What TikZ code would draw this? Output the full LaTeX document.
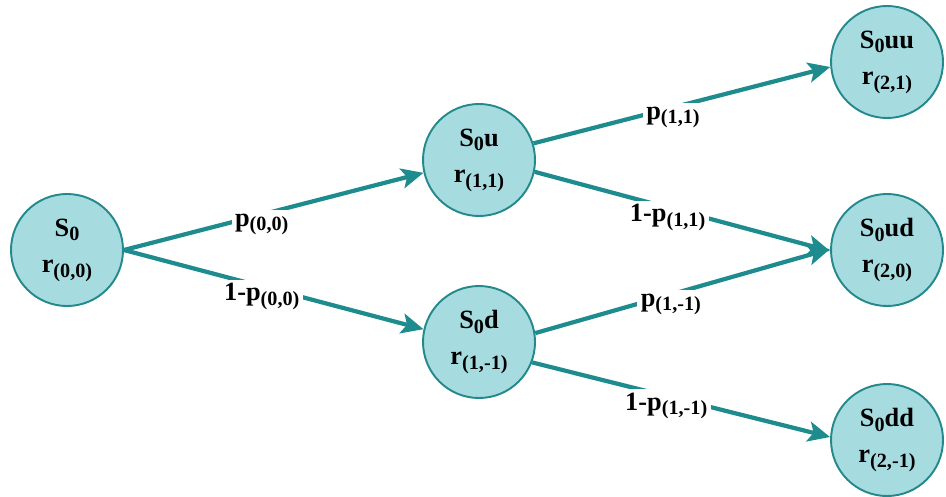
\documentclass[tikz,border=0pt]{standalone}
\usepackage{fontspec}
\setmainfont{Liberation Serif}
\usetikzlibrary{arrows.meta}

\definecolor{branchteal}{HTML}{1E8C8F}
\definecolor{statefill}{HTML}{A6DCE0}
\definecolor{statedraw}{HTML}{23898C}

% lowered, smaller index as in S0 and r(1,1)
\newcommand{\lowidx}[1]{\raisebox{-0.4ex}{\fontsize{11.5}{11.5}\selectfont #1}}

\begin{document}
\begin{tikzpicture}[
  state/.style={circle, draw=statedraw, line width=1.1pt, fill=statefill,
                minimum size=2.24cm, inner sep=0pt, align=center,
                text=black, font=\fontsize{15}{20.5}\selectfont\bfseries},
  branch/.style={draw=branchteal, line width=2.4pt,
                 -{Stealth[length=0.44cm, width=0.4cm, inset=0.1cm]}},
  prob/.style={fill=white, inner sep=2pt, yshift=-0.2cm, text=black,
               font=\fontsize{15}{17}\selectfont\bfseries},
]
  \useasboundingbox (0,0) rectangle (18.92,9.92);

  % states of the two-step tree
  \node[state] (s0)   at (1.34, 4.92)  {S\lowidx{0}\\r\lowidx{(0,0)}};
  \node[state] (s0u)  at (9.58, 6.72)  {S\lowidx{0}u\\r\lowidx{(1,1)}};
  \node[state] (s0d)  at (9.58, 3.08)  {S\lowidx{0}d\\r\lowidx{(1,-1)}};
  \node[state] (s0uu) at (17.74, 8.68) {S\lowidx{0}uu\\r\lowidx{(2,1)}};
  \node[state] (s0ud) at (17.74, 4.92) {S\lowidx{0}ud\\r\lowidx{(2,0)}};
  \node[state] (s0dd) at (17.74, 1.12) {S\lowidx{0}dd\\r\lowidx{(2,-1)}};

  % first step
  \draw[branch] (s0.east) -- node[prob, pos=0.46] {p\lowidx{(0,0)}} (s0u.193);
  \draw[branch] (s0.east) -- node[prob, pos=0.46] {1-p\lowidx{(0,0)}} (s0d.167);

  % second step
  \draw[branch] (s0u.17) -- node[prob, pos=0.47] {p\lowidx{(1,1)}} (s0uu.185);
  \draw[branch] (s0u.-12) -- node[prob, pos=0.45] {1-p\lowidx{(1,1)}} (s0ud.181);
  \draw[branch] (s0d.9) -- node[prob, pos=0.46] {p\lowidx{(1,-1)}} (s0ud.179);
  \draw[branch] (s0d.-21) -- node[prob, pos=0.45] {1-p\lowidx{(1,-1)}} (s0dd.177);

\end{tikzpicture}
\end{document}
